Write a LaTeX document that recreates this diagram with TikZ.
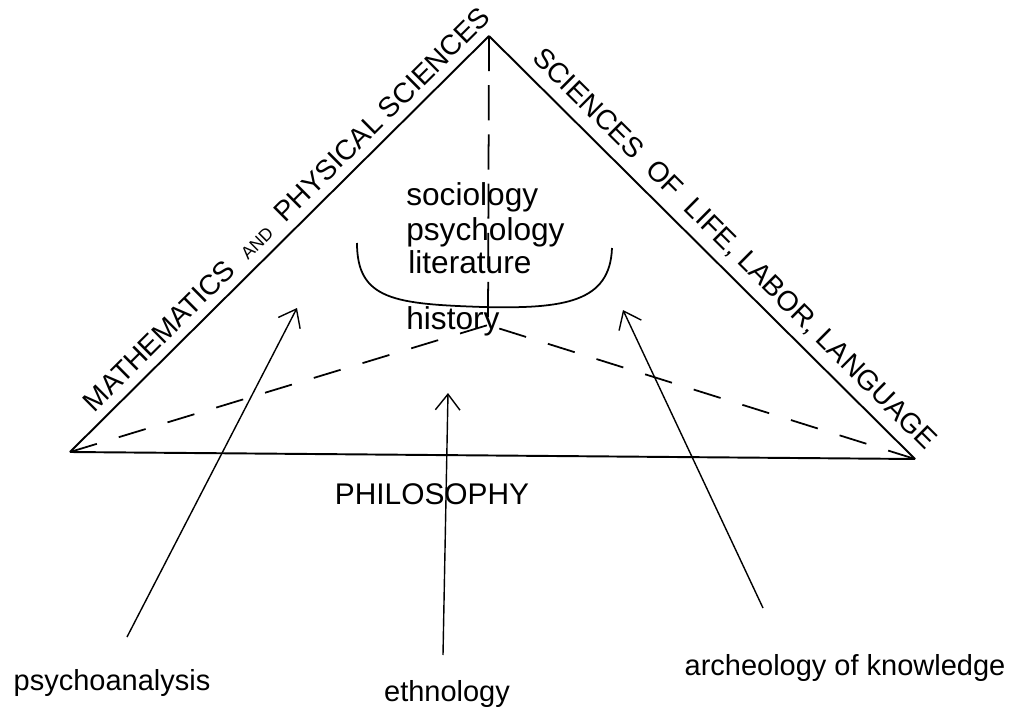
\documentclass[tikz,border=0pt]{standalone}
\usepackage{fontspec}
\setmainfont{Liberation Sans}
\usetikzlibrary{arrows.meta}
\begin{document}
\begin{tikzpicture}[x=0.02cm,y=-0.02cm,
side/.style ={line width=1.1pt},
hidden/.style ={line width=1pt, dash pattern=on 16pt off 13pt},
axis/.style ={line width=1pt, dash pattern=on 20pt off 8pt},
bracket/.style ={line width=1pt},
pointer/.style ={line width=0.8pt, -{Straight Barb[length=9pt,width=14pt]}},
sidelabel/.style ={font=\fontsize{16}{18}\selectfont, sloped, above, inner sep=5pt},
field/.style ={font=\fontsize{18}{20}\selectfont, anchor=base west, inner sep=0pt},
method/.style ={font=\fontsize{16.5}{18}\selectfont, anchor=base, inner sep=0pt}
]
\useasboundingbox (0,0) rectangle (1022,710);
\coordinate (L) at (70,452);
\coordinate (R) at (915,459);
\coordinate (T) at (489,36);
\coordinate (C) at (488,325);
% triangle
\draw[side] (L) -- node[sidelabel, pos=0.55] (maths) {MATHEMATICS\ \ {\fontsize{10}{11}\selectfont AND}\ \ PHYSICAL SCIENCES} (T);
\draw[side] (T) -- node[sidelabel, pos=0.54] (life) {SCIENCES\ \ OF\ \ LIFE,\ LABOR,\ LANGUAGE} (R);
\draw[side] (L) -- (R);
\draw[hidden] (L) -- (C);
\draw[hidden] (R) -- (C);
\draw[axis] (T) -- (C);
\node (phil) at (432,504) [method, font=\fontsize{17}{19}\selectfont] {PHILOSOPHY};
% human sciences
\node (soc) at (406,205) [field] {sociology};
\node (psy) at (406,240) [field] {psychology};
\node (lit) at (408,273) [field] {literature};
\node (hist) at (406,329) [field] {history};
\draw[bracket] (357,243) .. controls (357,300) and (395,304) .. (483,307)
  .. controls (565,309) and (610,302) .. (612,248);
% counter-sciences
\node (psa) at (112,690) [method] {psychoanalysis};
\node (eth) at (447,701) [method] {ethnology};
\node (arch) at (845,675) [method] {archeology of knowledge};
\coordinate (psa-tail) at (127,637);
\coordinate (psa-head) at (297,308);
\coordinate (eth-tail) at (443,655);
\coordinate (eth-head) at (448,393);
\coordinate (arch-tail) at (763,608);
\coordinate (arch-head) at (623,310);
\draw[pointer] (psa-tail) -- (psa-head);
\draw[pointer] (eth-tail) -- (eth-head);
\draw[pointer] (arch-tail) -- (arch-head);
\end{tikzpicture}
\end{document}
